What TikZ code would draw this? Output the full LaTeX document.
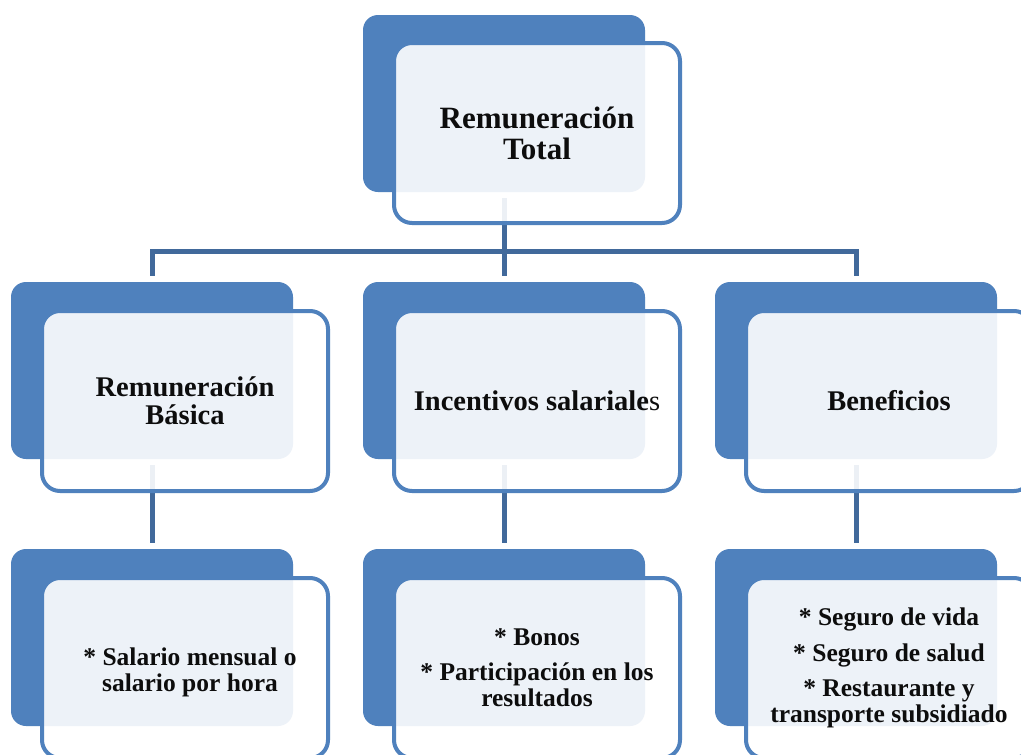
\documentclass[tikz,border=0pt]{standalone}
\usepackage{fontspec}
\setmainfont{Liberation Serif}
\usetikzlibrary{backgrounds}
\definecolor{darkbox}{HTML}{4F81BD}
\definecolor{conncol}{HTML}{41699B}
\definecolor{txt}{HTML}{0D0D0D}
\tikzset{
  backbox/.style={rectangle, rounded corners=15pt, fill=darkbox, draw=none,
    minimum width=282pt, minimum height=177pt, inner sep=0pt},
  frontbox/.style={rectangle, rounded corners=18pt, fill=white, fill opacity=0.9,
    text opacity=1, draw=darkbox, draw opacity=1, line width=4pt,
    minimum width=286pt, minimum height=180pt, inner sep=0pt, align=center,
    text=txt},
  textonly/.style={inner sep=0pt, align=center, text=txt},
  conn/.style={draw=conncol, line width=5pt},
  big/.style={font=\bfseries\fontsize{31}{31}\selectfont},
  mid/.style={font=\bfseries\fontsize{28.5}{28}\selectfont},
  small/.style={font=\bfseries\fontsize{25.5}{26}\selectfont},
}
\begin{document}
\begin{tikzpicture}[x=1pt,y=-1pt]
\clip (0,0) rectangle (1021,755);
% back boxes
\path (504,103.5) node[backbox] (tb) {};
\path (152,370.5) node[backbox] (lb) {};
\path (504,370.5) node[backbox] (mb) {};
\path (856,370.5) node[backbox] (rb) {};
\path (152,637.5) node[backbox] (llb) {};
\path (504,637.5) node[backbox] (mlb) {};
\path (856,637.5) node[backbox] (rlb) {};
\coordinate (bus) at (504,251);
% connectors behind everything
\begin{scope}[on background layer]
\fill[white] (0,0) rectangle (1021,755);
\draw[conn] ([yshift=-6pt]tb.south) -- (bus);
\draw[conn] ([yshift=6pt]lb.north) |- (bus) -| ([yshift=6pt]rb.north);
\draw[conn] (bus) -- ([yshift=6pt]mb.north);
\draw[conn] ([yshift=-6pt]lb.south) -- ([yshift=6pt]llb.north);
\draw[conn] ([yshift=-6pt]mb.south) -- ([yshift=6pt]mlb.north);
\draw[conn] ([yshift=-6pt]rb.south) -- ([yshift=6pt]rlb.north);
\end{scope}
% front boxes with text
\node[frontbox, big] (t) at (537,133) {Remuneración\\Total};
\node[frontbox, mid] (l) at (185,401) {Remuneración\\Básica};
\node[frontbox, mid] (m) at (537,401) {Incentivos salariale{\mdseries s}};
\node[frontbox, mid] (r) at (889,401) {Beneficios};
\node[frontbox] (ll) at (185,668) {};
\node[textonly, small] (llt) at (190,672) {* Salario mensual o\\salario por hora};
\node[frontbox, small] (ml) at (537,668) {* Bonos\\[9pt]* Participación en los\\resultados};
\node[frontbox, small] (rl) at (889,668) {* Seguro de vida\\[10pt]* Seguro de salud\\[9pt]* Restaurante y\\transporte subsidiado};
\end{tikzpicture}
\end{document}
